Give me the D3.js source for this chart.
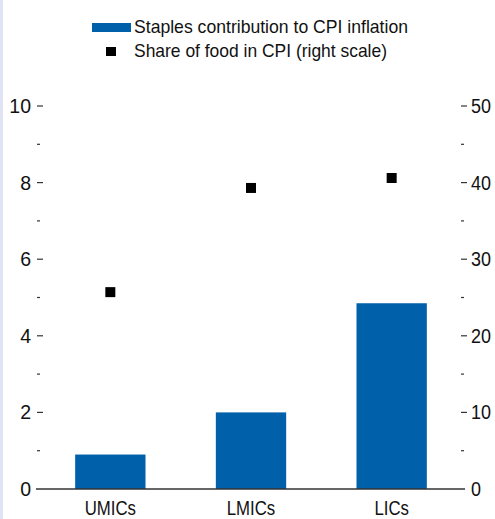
<!DOCTYPE html>
<html>
<head>
<meta charset="utf-8">
<script src="https://cdn.jsdelivr.net/npm/d3@7"></script>
<style>
  body { margin: 0; background: #fff; }
  svg { display: block; }
  text { font-family: "Liberation Sans", Arial, sans-serif; fill: #111; }
</style>
</head>
<body>
<div id="chart"></div>
<script>
var categories = ["UMICs", "LMICs", "LICs"];
var staples = [0.9, 2.0, 4.85];
var foodShare = [25.7, 39.3, 40.6];
var leftTicks = [0, 2, 4, 6, 8, 10];
var rightTicks = [0, 10, 20, 30, 40, 50];

var width = 495,
    height = 519;

var svg = d3.select("#chart").append("svg")
    .attr("width", width)
    .attr("height", height);

// squeeze a text to look like a condensed face
function narrow(sel, factor) {
  sel.each(function() {
    var w = this.getComputedTextLength();
    d3.select(this)
      .attr("textLength", w * factor)
      .attr("lengthAdjust", "spacingAndGlyphs");
  });
}

// light strip at the left edge
svg.append("rect")
    .attr("x", 0).attr("y", 0)
    .attr("width", 3).attr("height", height)
    .style("fill", "#dfe3f3");

var x = d3.scaleBand()
    .domain(categories)
    .range([40, 462])
    .paddingInner(0.5)
    .paddingOuter(0.25);

var yLeft = d3.scaleLinear().domain([0, 10]).range([489, 106]);
var yRight = d3.scaleLinear().domain([0, 50]).range([489, 106]);

// bars
svg.append("g")
    .selectAll("rect")
    .data(categories)
    .enter().append("rect")
    .attr("x", d => x(d))
    .attr("width", x.bandwidth())
    .attr("y", (d, i) => yLeft(staples[i]))
    .attr("height", (d, i) => yLeft(0) - yLeft(staples[i]))
    .style("fill", "#0060aa");

// food share squares
svg.append("g")
    .selectAll("rect")
    .data(categories)
    .enter().append("rect")
    .attr("x", d => x(d) + x.bandwidth() / 2 - 5)
    .attr("y", (d, i) => yRight(foodShare[i]) - 5)
    .attr("width", 10)
    .attr("height", 10)
    .style("fill", "#000");

// baseline
svg.append("line")
    .attr("x1", 36).attr("x2", 465)
    .attr("y1", yLeft(0)).attr("y2", yLeft(0))
    .style("stroke", "#333")
    .style("stroke-width", 1.5);

// left axis ticks
var leftMinor = d3.range(1, 10, 2);
svg.append("g").selectAll("line")
    .data(leftTicks.filter(d => d > 0))
    .enter().append("line")
    .attr("x1", 37).attr("x2", 43)
    .attr("y1", d => yLeft(d)).attr("y2", d => yLeft(d))
    .style("stroke", "#333").style("stroke-width", 1.2);
svg.append("g").selectAll("line")
    .data(leftMinor)
    .enter().append("line")
    .attr("x1", 37).attr("x2", 40)
    .attr("y1", d => yLeft(d)).attr("y2", d => yLeft(d))
    .style("stroke", "#333").style("stroke-width", 1.2);
svg.append("g").selectAll("text")
    .data(leftTicks)
    .enter().append("text")
    .attr("x", 31)
    .attr("y", d => yLeft(d))
    .attr("dy", "0.36em")
    .attr("text-anchor", "end")
    .style("font-size", "19.5px")
    .text(d => d);

// right axis ticks
var rightMinor = d3.range(5, 50, 10);
svg.append("g").selectAll("line")
    .data(rightTicks.filter(d => d > 0))
    .enter().append("line")
    .attr("x1", 461).attr("x2", 467)
    .attr("y1", d => yRight(d)).attr("y2", d => yRight(d))
    .style("stroke", "#333").style("stroke-width", 1.2);
svg.append("g").selectAll("line")
    .data(rightMinor)
    .enter().append("line")
    .attr("x1", 461).attr("x2", 464)
    .attr("y1", d => yRight(d)).attr("y2", d => yRight(d))
    .style("stroke", "#333").style("stroke-width", 1.2);
svg.append("g").selectAll("text")
    .data(rightTicks)
    .enter().append("text")
    .attr("x", 471)
    .attr("y", d => yRight(d))
    .attr("dy", "0.36em")
    .style("font-size", "19.5px")
    .text(d => d)
    .call(narrow, 0.92);

// category labels
svg.append("g").selectAll("text")
    .data(categories)
    .enter().append("text")
    .attr("x", d => x(d) + x.bandwidth() / 2)
    .attr("y", 515)
    .attr("text-anchor", "middle")
    .style("font-size", "19.5px")
    .text(d => d)
    .call(narrow, 0.86);

// legend
svg.append("rect")
    .attr("x", 92).attr("y", 23)
    .attr("width", 39).attr("height", 9)
    .style("fill", "#0060aa");
svg.append("text")
    .attr("x", 134).attr("y", 33)
    .style("font-size", "18.5px")
    .attr("textLength", 274)
    .attr("lengthAdjust", "spacingAndGlyphs")
    .text("Staples contribution to CPI inflation");
svg.append("rect")
    .attr("x", 106).attr("y", 47)
    .attr("width", 10).attr("height", 9)
    .style("fill", "#000");
svg.append("text")
    .attr("x", 134).attr("y", 57)
    .style("font-size", "18.5px")
    .attr("textLength", 253)
    .attr("lengthAdjust", "spacingAndGlyphs")
    .text("Share of food in CPI (right scale)");
</script>
</body>
</html>
